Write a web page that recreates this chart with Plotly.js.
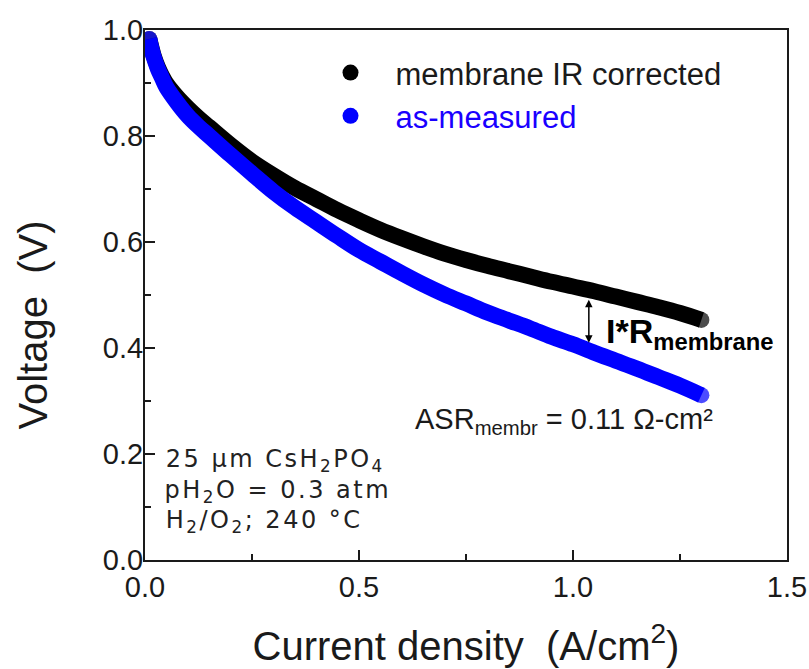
<!DOCTYPE html>
<html><head><meta charset="utf-8">
<script src="https://cdn.plot.ly/plotly-3.0.1.min.js"></script>
<style>
html,body{margin:0;padding:0;background:#fff}#chart{width:809px;height:669px}
g.annotation[data-index="4"] text, g.annotation[data-index="5"] text, g.annotation[data-index="6"] text{letter-spacing:2.5px}
</style>
</head><body><div id="chart"></div>
<script>
// Current density (A/cm^2)
const currentDensity = [0.01,0.015,0.02,0.03,0.04,0.05,0.075,0.10,0.125,0.15,0.20,0.25,0.30,0.35,0.40,0.45,0.50,0.55,0.60,0.65,0.70,0.75,0.80,0.85,0.90,0.95,1.00,1.05,1.10,1.15,1.20,1.25,1.30];
// membrane IR corrected voltage (V)
const voltageCorrected = [0.983,0.967,0.952,0.930,0.913,0.899,0.874,0.853,0.834,0.817,0.783,0.752,0.726,0.702,0.681,0.660,0.641,0.623,0.607,0.592,0.578,0.566,0.555,0.545,0.535,0.525,0.516,0.507,0.497,0.487,0.477,0.466,0.453];
// as-measured voltage (V)
const voltageMeasured = [0.983,0.965,0.950,0.927,0.909,0.892,0.863,0.838,0.818,0.800,0.764,0.729,0.695,0.665,0.638,0.611,0.585,0.563,0.541,0.520,0.501,0.484,0.467,0.452,0.437,0.421,0.407,0.391,0.376,0.361,0.345,0.329,0.311];
const seriesNames = ['membrane IR corrected', 'as-measured'];
const xTickVals = [0, 0.5, 1.0, 1.5];
const xTickText = ['0.0', '0.5', '1.0', '1.5'];
const yTickVals = [0, 0.2, 0.4, 0.6, 0.8, 1.0];
const yTickText = ['0.0', '0.2', '0.4', '0.6', '0.8', '1.0'];

const BLACK = '#000000', BLUE = '#0000ff';
const LW = 16;
// round end caps only at the two ends of each curve
const endSizes = currentDensity.map((_, i) => (i === 0 || i === currentDensity.length - 1) ? LW : 0);

const traces = [
  {x: currentDensity, y: voltageCorrected, mode: 'lines+markers', line: {color: BLACK, width: LW, shape: 'spline', smoothing: 1}, marker: {color: BLACK, size: endSizes, line: {width: 0}}, showlegend: false, hoverinfo: 'skip'},
  {x: currentDensity, y: voltageMeasured, mode: 'lines+markers', line: {color: BLUE, width: LW, shape: 'spline', smoothing: 1}, marker: {color: BLUE, size: endSizes, line: {width: 0}}, showlegend: false, hoverinfo: 'skip'},
  {x: [null], y: [null], mode: 'markers', marker: {color: BLACK, size: 17, line: {width: 0}}, name: seriesNames[0]},
  {x: [null], y: [null], mode: 'markers', marker: {color: BLUE, size: 17, line: {width: 0}}, name: '<span style="color:#1a00ff">' + seriesNames[1] + '</span>'}
];

const axisCommon = {
  showgrid: false, zeroline: false, showline: true, mirror: true,
  linecolor: '#1a1a1a', linewidth: 2,
  ticks: 'inside', ticklen: 10, tickwidth: 2, tickcolor: '#1a1a1a',
  tickfont: {family: 'Liberation Sans, Arial, sans-serif', size: 29, color: '#1a1a1a'}
};

const layout = {
  width: 809, height: 669,
  paper_bgcolor: '#fff', plot_bgcolor: '#fff',
  margin: {l: 145, r: 22, t: 30, b: 109},
  font: {family: 'Liberation Sans, Arial, sans-serif', color: '#1a1a1a'},
  xaxis: Object.assign({}, axisCommon, {
    range: [0, 1.5], tickvals: xTickVals, ticktext: xTickText,
    minor: {ticks: 'inside', ticklen: 6, tickwidth: 2, tickcolor: '#1a1a1a', dtick: 0.25, tick0: 0},
    title: {text: 'Current density  (A/cm<sup>2</sup>)', font: {size: 40, color: '#1a1a1a'}, standoff: 30}
  }),
  yaxis: Object.assign({}, axisCommon, {
    range: [0, 1.0], tickvals: yTickVals, ticktext: yTickText, ticklabelstandoff: -6,
    minor: {ticks: 'inside', ticklen: 6, tickwidth: 2, tickcolor: '#1a1a1a', dtick: 0.1, tick0: 0}
  }),
  showlegend: true,
  legend: {
    x: 0.25, y: 0.97, xanchor: 'left', yanchor: 'top',
    bgcolor: 'rgba(0,0,0,0)', borderwidth: 0,
    font: {family: 'Liberation Sans, Arial, sans-serif', size: 31, color: '#1a1a1a'},
    itemwidth: 80, tracegroupgap: 0
  },
  annotations: [
    {xref: 'paper', yref: 'paper', x: -0.174, y: 0.443, xanchor: 'center', yanchor: 'middle', text: 'Voltage  (V)', textangle: -90, showarrow: false,
     font: {family: 'Liberation Sans, Arial, sans-serif', size: 40, color: '#1a1a1a'}},
    {xref: 'x', yref: 'y', axref: 'x', ayref: 'y', x: 1.037, y: 0.410, ax: 1.037, ay: 0.494, text: '',
     showarrow: true, arrowhead: 2, startarrowhead: 2, arrowside: 'end+start', arrowsize: 1, arrowwidth: 1.5, arrowcolor: '#000'},
    {xref: 'x', yref: 'y', x: 1.073, y: 0.428, xanchor: 'left', yanchor: 'middle', showarrow: false,
     text: '<b>I*R<sub>membrane</sub></b>', font: {family: 'Liberation Sans, Arial, sans-serif', size: 34, color: '#000'}},
    {xref: 'x', yref: 'y', x: 0.627, y: 0.262, xanchor: 'left', yanchor: 'middle', showarrow: false,
     text: 'ASR<sub>membr</sub> = 0.11 Ω-cm²', font: {family: 'Liberation Sans, Arial, sans-serif', size: 29, color: '#1a1a1a'}},
    {xref: 'x', yref: 'y', x: 0.082, y: 0.187, xanchor: 'left', yanchor: 'middle', showarrow: false,
     text: '25 μm CsH<sub>2</sub>PO<sub>4</sub>', font: {family: 'DejaVu Sans, Verdana, sans-serif', size: 24, color: '#222'}},
    {xref: 'x', yref: 'y', x: 0.082, y: 0.130, xanchor: 'left', yanchor: 'middle', showarrow: false,
     text: 'pH<sub>2</sub>O = 0.3 atm', font: {family: 'DejaVu Sans, Verdana, sans-serif', size: 24, color: '#222'}},
    {xref: 'x', yref: 'y', x: 0.082, y: 0.073, xanchor: 'left', yanchor: 'middle', showarrow: false,
     text: 'H<sub>2</sub>/O<sub>2</sub>; 240 °C', font: {family: 'DejaVu Sans, Verdana, sans-serif', size: 24, color: '#222'}}
  ]
};

Plotly.newPlot('chart', traces, layout, {staticPlot: true, displayModeBar: false});
</script>
</body></html>
